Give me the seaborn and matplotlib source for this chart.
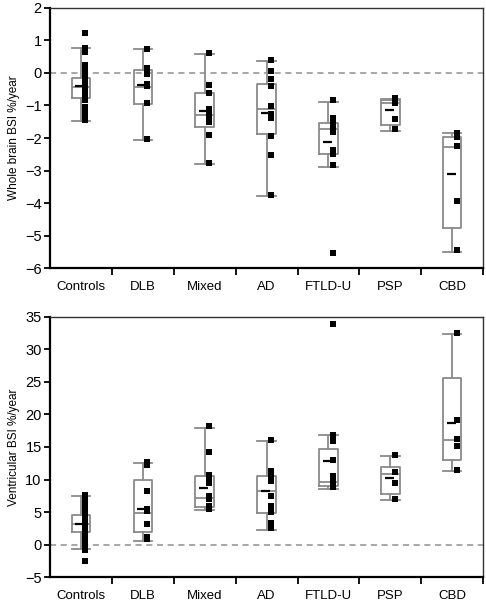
import numpy as np
import pandas as pd
import matplotlib
matplotlib.use('Agg')
import matplotlib.pyplot as plt
import seaborn as sns
from matplotlib.transforms import ScaledTranslation

groups = ['Controls', 'DLB', 'Mixed', 'AD', 'FTLD-U', 'PSP', 'CBD']

# whole brain BSI, individual subjects
wb_points = {
    'Controls': [1.23, 0.78, 0.72, 0.65, 0.24, 0.08, -0.02, -0.12, -0.22, -0.33, -0.40,
                 -0.45, -0.53, -0.63, -0.74, -0.84, -1.05, -1.15, -1.25, -1.46],
    'DLB': [0.73, 0.15, -0.02, -0.35, -0.41, -0.92, -2.04],
    'Mixed': [0.60, -0.38, -0.61, -1.12, -1.20, -1.37, -1.51, -1.92, -2.76],
    'AD': [0.41, 0.06, -0.20, -0.41, -1.02, -1.25, -1.37, -1.95, -2.53, -3.74],
    'FTLD-U': [-0.84, -1.40, -1.51, -1.61, -1.71, -1.81, -2.38, -2.48, -2.84, -5.55],
    'PSP': [-0.77, -0.84, -0.92, -1.42, -1.73],
    'CBD': [-1.84, -1.90, -1.97, -2.24, -3.95, -5.46],
}
wb_q1 = [-0.77, -0.96, -1.66, -1.87, -2.50, -1.61, -4.76]
wb_med = [-0.43, -0.42, -1.30, -1.11, -1.71, -0.92, -2.28]
wb_q3 = [-0.14, 0.08, -0.63, -0.33, -1.53, -0.84, -1.97]
wb_lo = [-1.49, -2.07, -2.81, -3.77, -2.89, -1.78, -5.51]
wb_hi = [0.76, 0.74, 0.58, 0.37, -0.89, -0.80, -1.85]
wb_mean = [-0.41, -0.36, -1.18, -1.23, -2.12, -1.15, -3.12]

# ventricular BSI, individual subjects
vb_points = {
    'Controls': [7.6, 6.8, 6.5, 6.0, 5.5, 5.0, 4.6, 4.2, 3.8, 3.5, 3.2, 2.9, 2.5, 2.1,
                 1.7, 1.3, 0.9, 0.0, -0.4, -0.8, -2.6],
    'DLB': [12.7, 12.3, 8.3, 5.5, 5.1, 3.2, 1.2, 0.8],
    'Mixed': [18.2, 14.3, 10.7, 10.4, 9.5, 7.4, 7.0, 5.9, 5.4],
    'AD': [16.1, 11.3, 10.4, 9.8, 7.4, 5.9, 5.0, 3.3, 2.9, 2.5],
    'FTLD-U': [33.9, 16.9, 15.9, 13.0, 10.5, 10.1, 9.8, 9.4, 8.9],
    'PSP': [13.7, 11.1, 9.4, 7.0],
    'CBD': [32.5, 19.2, 16.3, 15.2, 11.4],
}
vb_q1 = [1.9, 1.9, 5.7, 4.9, 8.95, 7.8, 12.95]
vb_med = [3.2, 4.9, 7.2, 8.3, 9.6, 10.8, 16.1]
vb_q3 = [4.5, 10.0, 10.5, 10.6, 14.75, 12.0, 25.6]
vb_lo = [-0.74, 0.6, 5.3, 2.3, 8.6, 6.8, 11.3]
vb_hi = [7.5, 12.5, 17.9, 15.9, 16.8, 13.6, 32.4]
vb_mean = [3.2, 5.5, 8.75, 8.3, 12.85, 10.3, 18.75]

plt.rcParams['font.family'] = ['Liberation Sans', 'DejaVu Sans']
grey = '#8a8a8a'


def draw_panel(ax, points, q1, med, q3, lo, hi, means, ylabel, ylim, yticks):
    df = pd.DataFrame([(g, v) for g in groups for v in points[g]], columns=['group', 'value'])
    ax.axhline(0, color='#909090', lw=1.1, ls=(0, (4, 3)), zorder=0)
    stats = [dict(q1=q1[i], med=med[i], q3=q3[i], whislo=lo[i], whishi=hi[i], fliers=[])
             for i in range(len(groups))]
    pos = np.arange(len(groups))
    ax.bxp(stats, positions=pos, widths=0.3, capwidths=0.3, showfliers=False, manage_ticks=False,
           boxprops=dict(color=grey, lw=1.3), whiskerprops=dict(color=grey, lw=1.3),
           capprops=dict(color=grey, lw=1.3), medianprops=dict(color=grey, lw=1.3))
    sns.stripplot(data=df, x='group', y='value', order=groups, jitter=False, marker='s',
                  color='black', size=3.7, linewidth=0, ax=ax, zorder=5)
    shift = ScaledTranslation(0.045, 0, ax.figure.dpi_scale_trans)
    for coll in ax.collections:
        coll.set_offset_transform(ax.transData + shift)
    ax.hlines(means, pos - 0.09, pos + 0.06, color='black', lw=1.6, zorder=6)

    ax.set_xlim(-0.5, len(groups) - 0.5)
    ax.set_ylim(*ylim)
    ax.set_yticks(yticks)
    ax.set_xticks(pos)
    ax.set_xticklabels(groups)
    ax.set_xticks(np.arange(0.5, len(groups)), minor=True)
    ax.tick_params(axis='x', which='major', length=0, labelsize=9.5, pad=9)
    ax.tick_params(axis='x', which='minor', length=5, width=1.3, direction='out')
    ax.tick_params(axis='y', length=4, width=1.3, labelsize=10.5, pad=2)
    ax.set_xlabel('')
    ax.set_ylabel(ylabel, fontsize=8.5, labelpad=4)
    for side in ['left', 'bottom']:
        ax.spines[side].set_linewidth(1.6)
    for side in ['top', 'right']:
        ax.spines[side].set_linewidth(1.0)
        ax.spines[side].set_color('#333333')


fig = plt.figure(figsize=(4.86, 6.0), dpi=100)
ax1 = fig.add_axes([0.103, 0.5533, 0.891, 0.4334])
ax2 = fig.add_axes([0.103, 0.0383, 0.891, 0.4334])

draw_panel(ax1, wb_points, wb_q1, wb_med, wb_q3, wb_lo, wb_hi, wb_mean,
           'Whole brain BSI %/year', (-6, 2), np.arange(-6, 3, 1))
draw_panel(ax2, vb_points, vb_q1, vb_med, vb_q3, vb_lo, vb_hi, vb_mean,
           'Ventricular BSI %/year', (-5, 35), np.arange(-5, 36, 5))

fig.savefig('out.png', dpi=100)
